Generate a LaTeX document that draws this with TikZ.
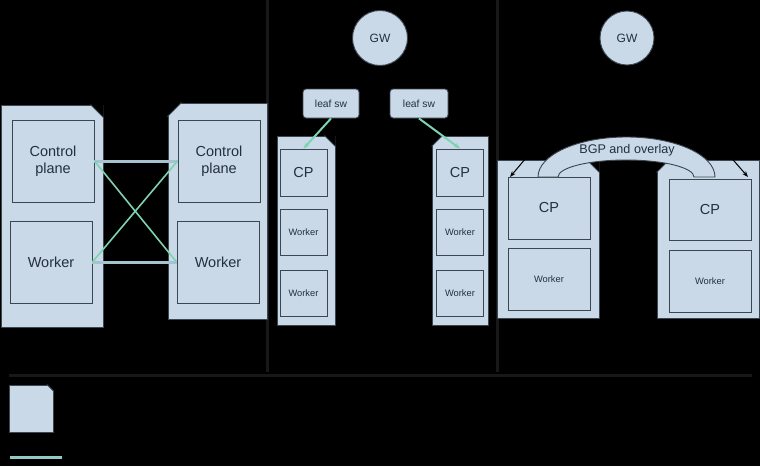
\documentclass[tikz,border=0pt]{standalone}
\usepackage{fontspec}
\setmainfont{Liberation Sans}
\usepackage{tikz}
\usetikzlibrary{arrows.meta, positioning}
\definecolor{paneblue}{HTML}{C9D9E7}
\definecolor{edgegray}{HTML}{3C4650}
\definecolor{inkblue}{HTML}{24303C}
\definecolor{linkgreen}{HTML}{7DD3B0}
\definecolor{linkblue}{HTML}{A3C3CF}
\definecolor{rulegray}{HTML}{181818}

\begin{document}
\begin{tikzpicture}
                            [x=1pt, y=-1pt,
                             rack/.style={draw=edgegray, fill=paneblue, line width=1pt, inner sep=0pt},
                             unit/.style={draw=edgegray, fill=paneblue, line width=0.9pt, inner sep=0pt, text=inkblue, align=center},
                             bigtext/.style={font=\fontsize{14.5}{17}\selectfont},
                             smalltext/.style={font=\fontsize{9.3}{11}\selectfont},
                             switchbox/.style={unit, rounded corners=3pt, minimum width=56pt, minimum height=29pt, font=\fontsize{10.3}{12}\selectfont},
                             gwnode/.style={unit, circle, minimum size=55pt, font=\fontsize{12}{14}\selectfont},
                             crosslink/.style={linkgreen, line width=1.6pt},
                             pairlink/.style={linkblue, line width=3pt},
                             uplink/.style={linkgreen, line width=2pt, -{Stealth[length=6pt]}},
                             blackline/.style={black, line width=1pt, -{Stealth[length=6pt]}},
                             divider/.style={rulegray, line width=3pt}]

    \fill[black] (0,0) rectangle (760,466);
    \useasboundingbox (0,0) rectangle (760,466);

    % dividers
    \coordinate (d1top) at (267,0);
    \coordinate (d1bot) at (267,372);
    \coordinate (d2top) at (497,0);
    \coordinate (d2bot) at (497,372);
    \coordinate (hleft) at (9,375);
    \coordinate (hright) at (752,375);
    \draw[divider] (d1top) -- (d1bot);
    \draw[divider] (d2top) -- (d2bot);
    \draw[divider] (hleft) -- (hright);

    % racks
    \node[rack, minimum width=102pt, minimum height=222pt] (rackL) at (52,216) {};
    \node[rack, minimum width=99pt, minimum height=216pt] (rackR) at (217.5,211) {};
    \node[rack, minimum width=58pt, minimum height=189pt] (rackML) at (306,230.5) {};
    \node[rack, minimum width=56pt, minimum height=189pt] (rackMR) at (460,230.5) {};
    \node[rack, minimum width=102pt, minimum height=158pt] (rackRL) at (548,239) {};
    \node[rack, minimum width=102pt, minimum height=158pt] (rackRR) at (708,239) {};
    \node[rack, minimum width=44pt, minimum height=47pt] (legbox) at (31.5,408.5) {};

    % cut corners
    \foreach \r/\c in {rackL/13, rackML/11, rackRL/13, legbox/7} {
        \fill[black] ([xshift=-\c pt]\r.north east) -- (\r.north east) -- ([yshift=-\c pt]\r.north east) -- cycle;
        \draw[edgegray, line width=1pt] ([xshift=-\c pt]\r.north east) -- ([yshift=-\c pt]\r.north east);
    }
    \foreach \r/\c in {rackR/14, rackMR/11, rackRR/13} {
        \fill[black] ([xshift=\c pt]\r.north west) -- (\r.north west) -- ([yshift=-\c pt]\r.north west) -- cycle;
        \draw[edgegray, line width=1pt] ([xshift=\c pt]\r.north west) -- ([yshift=-\c pt]\r.north west);
    }

    % left: two nodes side by side
    \node[unit, bigtext, minimum width=82pt, minimum height=82pt] (cpL) at (53,161) {Control\\plane};
    \node[unit, bigtext, minimum width=82pt, minimum height=82pt] (wkL) at (51,262) {Worker};
    \node[unit, bigtext, minimum width=82pt, minimum height=82pt] (cpR) at (219,161) {Control\\plane};
    \node[unit, bigtext, minimum width=82pt, minimum height=82pt] (wkR) at (218,262) {Worker};

    \draw[pairlink] (cpL.east) -- (cpR.west);
    \draw[pairlink] (wkL.east) -- (wkR.west);
    \draw[crosslink] (cpL.east) -- (wkR.west);
    \draw[crosslink] (wkL.east) -- (cpR.west);

    % middle: leaf switches
    \node[gwnode] (gwM) at (380,38) {GW};
    \node[switchbox] (leafL) at (331,103.5) {leaf sw};
    \node[switchbox, minimum width=58pt] (leafR) at (419,103.5) {leaf sw};

    \node[unit, bigtext, minimum width=47pt, minimum height=47pt] (cpML) at (303.5,172.5) {CP};
    \node[unit, smalltext, minimum width=47pt, minimum height=46pt] (wkML1) at (303.5,232) {Worker};
    \node[unit, smalltext, minimum width=47pt, minimum height=46pt] (wkML2) at (303.5,293.5) {Worker};

    \node[unit, bigtext, minimum width=47pt, minimum height=47pt] (cpMR) at (460,172.5) {CP};
    \node[unit, smalltext, minimum width=47pt, minimum height=46pt] (wkMR1) at (460,232) {Worker};
    \node[unit, smalltext, minimum width=47pt, minimum height=46pt] (wkMR2) at (460,293.5) {Worker};

    \draw[blackline] (gwM) -- (leafL.north);
    \draw[blackline] (gwM) -- (leafR.north);
    \draw[uplink] (leafL.south) -- (cpML.north);
    \draw[uplink] (leafR.south) -- (cpMR.north);

    % right: BGP between the nodes
    \node[gwnode, minimum size=54pt] (gwR) at (627,38) {GW};

    \node[unit, bigtext, minimum width=82pt, minimum height=62pt] (cpRL) at (549,208) {CP};
    \node[unit, smalltext, minimum width=82pt, minimum height=62pt] (wkRL) at (549,279) {Worker};

    \node[unit, bigtext, minimum width=82pt, minimum height=61pt] (cpRR) at (710,209.5) {CP};
    \node[unit, smalltext, minimum width=82pt, minimum height=62pt] (wkRR) at (710,281) {Worker};

    \draw[draw=edgegray, fill=paneblue, line width=0.9pt] (538,177) arc[start angle=180, end angle=360, x radius=88.5, y radius=40] -- (694,177) arc[start angle=0, end angle=-180, x radius=68, y radius=17] -- cycle;
    \node[text=inkblue, font=\fontsize{12.6}{14}\selectfont] (bgp) at (627,150) {BGP and overlay};

    \coordinate (tipL) at (510,177);
    \coordinate (tipR) at (748,177);
    \draw[blackline] (gwR) -- (tipL);
    \draw[blackline] (gwR) -- (tipR);

    % legend
    \coordinate (legA) at (10,457);
    \coordinate (legB) at (62,457);
    \draw[pairlink] (legA) -- (legB);
    \draw[crosslink, line width=1pt] (legA) -- (legB);
\end{tikzpicture}
\end{document}
